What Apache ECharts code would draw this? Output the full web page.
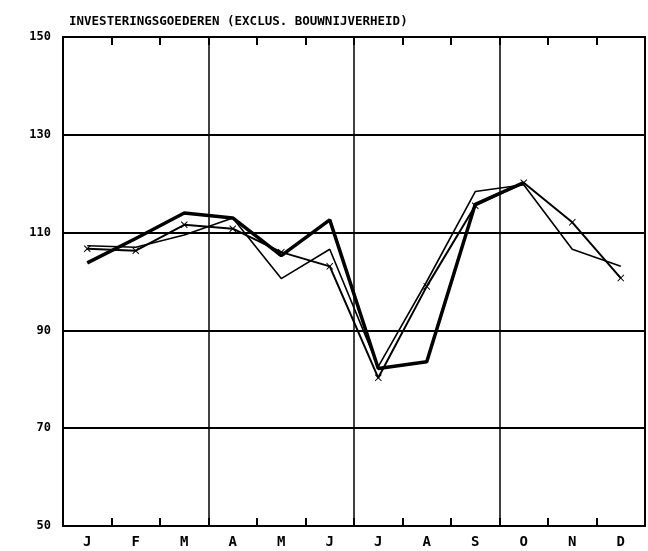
<!DOCTYPE html>
<html>
<head>
<meta charset="UTF-8">
<title>Investeringsgoederen</title>
<script src="https://cdn.jsdelivr.net/npm/echarts@6/dist/echarts.min.js"></script>
<style>
  html, body { margin: 0; padding: 0; background: #fff; }
  #main { width: 648px; height: 551px; }
</style>
</head>
<body>
<div id="main"></div>
<script type="text/javascript">
// maanden
var months = ['J', 'F', 'M', 'A', 'M', 'J', 'J', 'A', 'S', 'O', 'N', 'D'];
var yTicks = [50, 70, 90, 110, 130, 150];

// dikke lijn (loopt tot oktober)
var thickLine = [103.8, 108.8, 114, 113, 105.3, 112.6, 82.2, 83.6, 115.8, 120.2, null, null];
// dunne lijn
var thinLine = [107.3, 107, 109.5, 113, 100.6, 106.6, 82.6, 100, 118.4, 119.8, 106.6, 103.1];
// lijn met kruisjes
var crossLine = [106.7, 106.3, 111.6, 110.8, 106, 103.1, 80.3, 99, 115.5, 120.2, 112.1, 100.7];

var crossSymbol = 'path://M0,1L1,0L5,4L9,0L10,1L6,5L10,9L9,10L5,6L1,10L0,9L4,5Z';
var textFont = 'DejaVu Sans Mono';

var myChart = echarts.init(document.getElementById('main'));

var option = {
    animation: false,
    backgroundColor: '#fff',
    title: {
        text: 'INVESTERINGSGOEDEREN (EXCLUS. BOUWNIJVERHEID)',
        left: 64,
        top: 10,
        textStyle: {
            fontFamily: textFont,
            fontWeight: 'bold',
            fontSize: 12.5,
            color: '#000'
        }
    },
    grid: {
        left: 63, right: 3, top: 37, bottom: 25,
        show: true,
        borderColor: '#000',
        borderWidth: 2
    },
    xAxis: [
        {
            type: 'category',
            data: months,
            position: 'bottom',
            boundaryGap: true,
            axisLine: { show: true, lineStyle: { color: '#000', width: 2 } },
            axisTick: { show: true, interval: 0, inside: true, length: 8, lineStyle: { color: '#000', width: 2 } },
            axisLabel: {
                color: '#000', fontFamily: textFont, fontWeight: 'bold', fontSize: 14, margin: 9
            },
            splitLine: {
                show: true,
                interval: function (i) { return i > 0 && i % 3 === 0; },
                lineStyle: { color: '#000', width: 1.5 }
            },
            z: 5
        },
        {
            type: 'category',
            data: months,
            position: 'top',
            boundaryGap: true,
            axisLine: { show: true, lineStyle: { color: '#000', width: 2 } },
            axisTick: { show: true, interval: 0, inside: true, length: 8, lineStyle: { color: '#000', width: 2 } },
            axisLabel: { show: false },
            splitLine: { show: false },
            z: 5
        }
    ],
    yAxis: {
        type: 'value',
        min: 50,
        max: 150,
        interval: 20,
        axisLine: { show: true, lineStyle: { color: '#000', width: 2 } },
        axisTick: { show: false },
        axisLabel: {
            color: '#000', fontFamily: textFont, fontWeight: 'bold', fontSize: 12, margin: 12,
            formatter: function (v) { return yTicks.indexOf(v) >= 0 ? String(v) : ''; }
        },
        splitLine: { show: true, lineStyle: { color: '#000', width: 2 } }
    },
    series: [
        {
            type: 'line',
            data: thickLine,
            symbol: 'none',
            connectNulls: false,
            lineStyle: { color: '#000', width: 3.5 }
        },
        {
            type: 'line',
            data: thinLine,
            symbol: 'none',
            lineStyle: { color: '#000', width: 1.6 }
        },
        {
            type: 'line',
            data: crossLine,
            symbol: crossSymbol,
            symbolSize: 7,
            itemStyle: { color: '#000' },
            lineStyle: { color: '#000', width: 2 }
        }
    ]
};

myChart.setOption(option);
</script>
</body>
</html>
